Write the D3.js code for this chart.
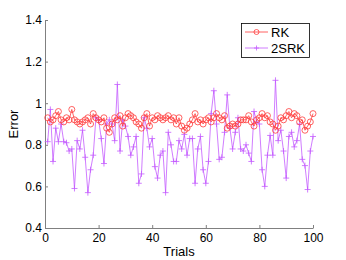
<!DOCTYPE html>
<html>
<head>
<meta charset="utf-8">
<script src="https://cdn.jsdelivr.net/npm/d3@7"></script>
<style>
body { margin: 0; background: #fff; }
svg { display: block; font-family: "Liberation Sans", Arial, sans-serif; }
</style>
</head>
<body>
<div id="chart"></div>
<script>
const w = 346, h = 260;
const margin = {left: 45, right: 33, top: 20, bottom: 32};

const trials = d3.range(1, 101);
const rk = [0.93,0.91,0.92,0.94,0.96,0.92,0.91,0.93,0.92,0.97,
            0.92,0.91,0.90,0.91,0.92,0.93,0.90,0.95,0.93,0.92,
            0.91,0.93,0.88,0.86,0.90,0.93,0.92,0.94,0.89,0.93,
            0.95,0.94,0.93,0.91,0.90,0.88,0.93,0.95,0.89,0.93,
            0.92,0.94,0.93,0.92,0.93,0.94,0.92,0.93,0.90,0.93,
            0.89,0.87,0.88,0.90,0.92,0.95,0.91,0.92,0.90,0.92,
            0.93,0.91,0.93,0.95,0.93,0.92,0.94,0.88,0.89,0.90,
            0.89,0.90,0.92,0.92,0.92,0.94,0.91,0.89,0.92,0.93,
            0.95,0.93,0.94,0.91,0.90,0.87,0.89,0.93,0.92,0.94,
            0.96,0.93,0.95,0.94,0.91,0.92,0.87,0.89,0.91,0.95];
const srk = [0.815,0.97,0.72,0.88,0.815,0.90,0.815,0.81,0.77,0.78,
             0.59,0.82,0.78,0.87,0.74,0.57,0.68,0.75,0.93,0.92,
             0.83,0.71,0.90,0.92,0.90,0.82,1.09,0.77,0.92,0.89,
             0.84,0.75,0.79,0.84,0.615,0.66,0.93,0.88,0.79,0.83,
             0.695,0.64,0.75,0.77,0.57,0.86,0.80,0.72,0.72,0.82,
             0.78,0.85,0.75,0.83,0.83,0.615,0.78,0.84,0.68,0.615,
             0.72,0.95,1.06,0.90,0.73,0.74,0.86,1.04,0.88,0.78,
             0.86,0.93,0.78,0.77,0.80,0.76,0.72,0.96,0.91,0.90,
             0.68,0.60,0.75,0.845,0.75,1.11,0.82,0.87,0.77,0.64,
             0.84,0.86,0.79,0.82,0.90,0.73,0.70,0.585,0.77,0.84];
const xTicks = [0, 20, 40, 60, 80, 100];
const yTicks = [0.4, 0.6, 0.8, 1, 1.2, 1.4];
const names = ["RK", "2SRK"];
const colors = ["#ff3b3b", "#c45cff"];

let svg = d3.select('#chart').append('svg').attr('width', w).attr('height', h);

let x = d3.scaleLinear().domain([0, 100]).range([margin.left, w - margin.right]);
let y = d3.scaleLinear().domain([0.4, 1.4]).range([h - margin.bottom, margin.top]);

// axes, MATLAB style: ticks point inward
let xAxis = svg.append('g')
    .attr('transform', `translate(0,${h - margin.bottom})`)
    .call(d3.axisBottom(x).tickValues(xTicks).tickSizeInner(-3).tickSizeOuter(0).tickPadding(5));
let yAxis = svg.append('g')
    .attr('transform', `translate(${margin.left},0)`)
    .call(d3.axisLeft(y).tickValues(yTicks).tickFormat(d3.format('~g')).tickSizeInner(-3).tickSizeOuter(0).tickPadding(3));
[xAxis, yAxis].forEach(a => {
  a.selectAll('path, line').attr('stroke', '#808080');
  a.selectAll('text').attr('font-size', 12).attr('fill', '#000')
    .attr('font-family', '"Liberation Sans", Arial, sans-serif');
});

svg.append('text').text('Trials')
    .attr('x', x(50)).attr('y', 256).attr('text-anchor', 'middle').attr('font-size', 13);
svg.append('text').text('Error')
    .attr('transform', `translate(18,${y(0.9)}) rotate(-90)`)
    .attr('text-anchor', 'middle').attr('font-size', 13);

let line = d3.line().x((d, i) => x(trials[i])).y(d => y(d));

// 2SRK
svg.append('path').datum(srk).attr('d', line)
    .attr('fill', 'none').attr('stroke', colors[1]).attr('stroke-width', 0.8);
svg.selectAll('.plus').data(srk).enter().append('path')
    .attr('class', 'plus')
    .attr('d', (d, i) => {
      let cx = x(trials[i]), cy = y(d);
      return `M${cx-3},${cy}H${cx+3}M${cx},${cy-3}V${cy+3}`;
    })
    .attr('stroke', colors[1]).attr('stroke-width', 0.8);

// RK
svg.append('path').datum(rk).attr('d', line)
    .attr('fill', 'none').attr('stroke', colors[0]).attr('stroke-width', 0.8);
svg.selectAll('.circ').data(rk).enter().append('circle')
    .attr('class', 'circ')
    .attr('cx', (d, i) => x(trials[i])).attr('cy', d => y(d)).attr('r', 3)
    .attr('fill', 'none').attr('stroke', colors[0]).attr('stroke-width', 0.8);

// legend
let lg = svg.append('g');
lg.append('rect').attr('x', 241.5).attr('y', 23.5).attr('width', 68).attr('height', 34)
    .attr('fill', '#fff').attr('stroke', '#000').attr('stroke-width', 0.8);
names.forEach((n, i) => {
  let ly = 32 + i * 16;
  lg.append('line').attr('x1', 245).attr('x2', 268).attr('y1', ly).attr('y2', ly)
      .attr('stroke', colors[i]).attr('stroke-width', 0.8);
  if (i == 0) {
    lg.append('circle').attr('cx', 256.5).attr('cy', ly).attr('r', 2.5)
        .attr('fill', 'none').attr('stroke', colors[i]).attr('stroke-width', 0.8);
  } else {
    lg.append('path').attr('d', `M254,${ly}H259M256.5,${ly-2.5}V${ly+2.5}`)
        .attr('stroke', colors[i]).attr('stroke-width', 0.8);
  }
  lg.append('text').text(n).attr('x', 271).attr('y', ly + 4.5).attr('font-size', 13);
});
</script>
</body>
</html>
